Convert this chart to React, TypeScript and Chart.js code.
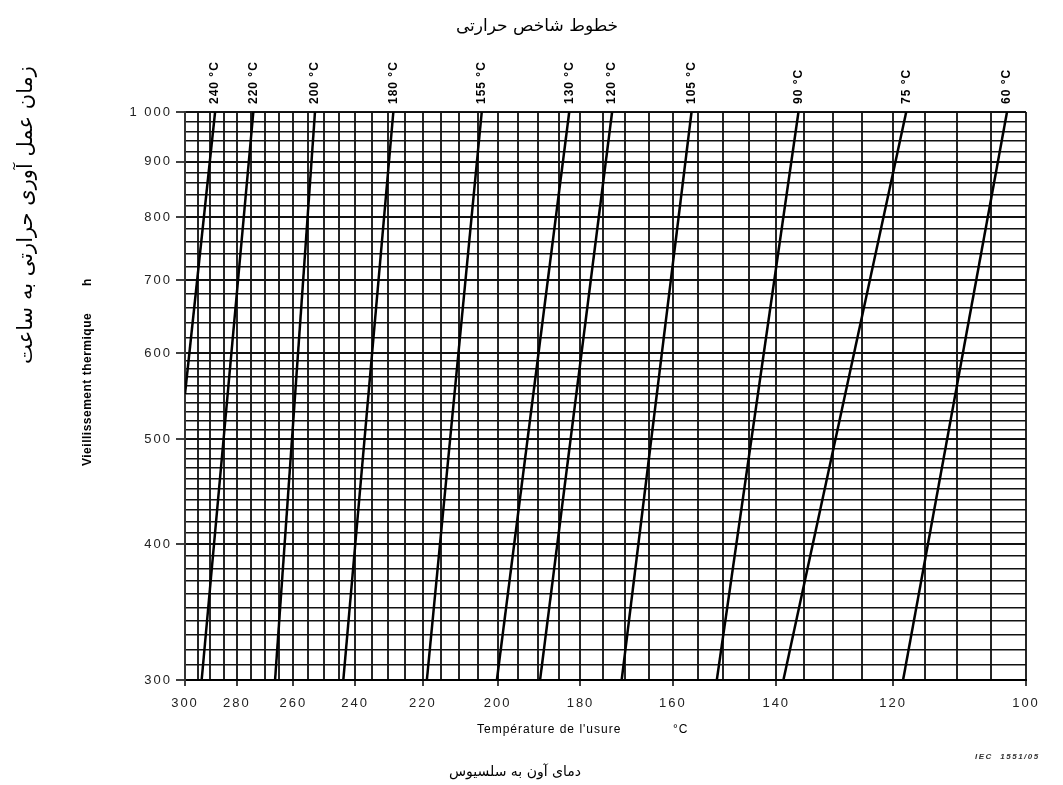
import React, { useEffect, useRef } from 'react';
import { Chart, registerables, LinearScale } from 'chart.js';

// ---------- data ----------
const indexLabels = ['240 °C', '220 °C', '200 °C', '180 °C', '155 °C', '130 °C', '120 °C', '105 °C', '90 °C', '75 °C', '60 °C'];
const hoursAtTop = [1000, 1000, 1000, 1000, 1000, 1000, 1000, 1000, 1000, 1000, 1000];
const tempAtTop = [288.2, 274.0, 252.8, 228.5, 204.1, 182.6, 172.9, 156.2, 136.0, 117.9, 102.7];
const tempAtLowEnd = [300, 293.4, 266.3, 243.7, 218.9, 200.2, 189.5, 170.8, 151.2, 138.7, 118.4];
const hoursAtLowEnd = [550, 300, 300, 300, 300, 300, 300, 300, 300, 300, 300];

const xLabelTemps = [300, 280, 260, 240, 220, 200, 180, 160, 140, 120, 100];
const xGridTemps = [
  300, 295, 290, 285, 280, 275, 270, 265, 260, 255, 250, 245, 240, 235, 230, 225, 220, 215, 210, 205,
  200, 195, 190, 185, 180, 175, 170, 165, 160, 155, 150, 145, 140, 135, 130, 125, 120, 115, 110, 105, 100,
];
const yLabelHours = [300, 400, 500, 600, 700, 800, 900, 1000];
const yLabelTexts = ['300', '400', '500', '600', '700', '800', '900', '1 000'];
const yGridHours = [
  300, 310, 320, 330, 340, 350, 360, 370, 380, 390, 400, 410, 420, 430, 440, 450, 460, 470, 480, 490,
  500, 510, 520, 530, 540, 550, 560, 570, 580, 590, 600, 620, 640, 660, 680, 700, 720, 740, 760, 780,
  800, 820, 840, 860, 880, 900, 920, 940, 960, 980, 1000,
];

const titleFa = 'خطوط شاخص حرارتی';
const yTitleFa = 'زمان عمل آوری حرارتی به ساعت';
const xTitleFa = 'دمای آون به سلسیوس';
const yTitleFr = 'Vieillissement thermique';
const yUnitFr = 'h';
const xTitleFr = "Température de l'usure";
const xUnitFr = '°C';
const noteText = 'IEC  1551/05';

// ---------- reciprocal temperature scale ----------
const TEMP_OFFSET = 190;
class ReciprocalScale extends LinearScale {
  getPixelForValue(value: number) {
    if (value === null || value === undefined || isNaN(value)) return NaN;
    const g = (t: number) => 1 / (t + TEMP_OFFSET);
    const lo = g(this.max);
    const hi = g(this.min);
    return this.getPixelForDecimal((g(value) - lo) / (hi - lo));
  }
  getValueForPixel(pixel: number) {
    const d = this.getDecimalForPixel(pixel);
    const lo = 1 / (this.max + TEMP_OFFSET);
    const hi = 1 / (this.min + TEMP_OFFSET);
    return 1 / (lo + d * (hi - lo)) - TEMP_OFFSET;
  }
}
(ReciprocalScale as any).id = 'reciprocal';
(ReciprocalScale as any).defaults = {};

Chart.register(...registerables, ReciprocalScale as any);

const SANS = '"Liberation Sans", Arial, sans-serif';
const FA = '"DejaVu Sans", sans-serif';

const annotations = {
  id: 'annotations',
  beforeDraw(chart: any) {
    chart.ctx.letterSpacing = '2px';
  },
  afterDraw(chart: any) {
    const ctx = chart.ctx as CanvasRenderingContext2D;
    const xs = chart.scales.x;
    const area = chart.chartArea;
    ctx.save();
    ctx.fillStyle = '#000';

    // index labels above plot
    ctx.letterSpacing = '1px';
    ctx.font = `bold 12px ${SANS}`;
    indexLabels.forEach((lab, i) => {
      const px = xs.getPixelForValue(tempAtTop[i]);
      ctx.save();
      ctx.translate(px, area.top - 8);
      ctx.rotate(-Math.PI / 2);
      ctx.textAlign = 'left';
      ctx.textBaseline = 'middle';
      ctx.fillText(lab, 0, 0);
      ctx.restore();
    });

    // French axis titles
    ctx.letterSpacing = '1px';
    ctx.font = `12px ${SANS}`;
    ctx.textAlign = 'left';
    ctx.textBaseline = 'middle';
    ctx.fillText(xTitleFr, 477, 730);
    ctx.fillText(xUnitFr, 673, 730);

    ctx.letterSpacing = '0.5px';
    ctx.font = `bold 12px ${SANS}`;
    ctx.save();
    ctx.translate(88, 466);
    ctx.rotate(-Math.PI / 2);
    ctx.textAlign = 'left';
    ctx.fillText(yTitleFr, 0, 0);
    ctx.fillText(yUnitFr, 180, 0);
    ctx.restore();

    // note
    ctx.letterSpacing = '1.5px';
    ctx.font = `italic bold 8px ${SANS}`;
    ctx.fillStyle = '#333';
    ctx.fillText(noteText, 975, 757);

    // Persian texts
    ctx.fillStyle = '#000';
    ctx.letterSpacing = '0px';
    ctx.textAlign = 'center';
    ctx.font = `17px ${FA}`;
    ctx.fillText(titleFa, 537, 27);
    ctx.font = `14px ${FA}`;
    ctx.fillText(xTitleFa, 515, 772);
    ctx.font = `21px ${FA}`;
    ctx.save();
    ctx.translate(27, 215);
    ctx.rotate(-Math.PI / 2);
    ctx.fillText(yTitleFa, 0, 0);
    ctx.restore();

    ctx.restore();
  },
};

export default function App() {
  const ref = useRef<HTMLCanvasElement>(null);
  useEffect(() => {
    const datasets = indexLabels.map((lab, i) => ({
      label: lab,
      data: [
        { x: tempAtTop[i], y: hoursAtTop[i] },
        { x: tempAtLowEnd[i], y: hoursAtLowEnd[i] },
      ],
      showLine: true,
      borderColor: '#000',
      borderWidth: 2.5,
      pointRadius: 0,
      tension: 0,
    }));
    const chart = new Chart(ref.current as HTMLCanvasElement, {
      type: 'scatter',
      data: { datasets },
      plugins: [annotations],
      options: {
        responsive: false,
        animation: false,
        layout: { padding: { left: 100, top: 112, right: 37, bottom: 50 } },
        plugins: { legend: { display: false }, tooltip: { enabled: false }, title: { display: false } },
        scales: {
          x: {
            type: 'reciprocal' as any,
            min: 100,
            max: 300,
            afterBuildTicks: (s: any) => {
              s.ticks = xGridTemps.map((v) => ({ value: v }));
            },
            afterFit: (s: any) => {
              s.height = 55;
              s.paddingLeft = 0;
              s.paddingRight = 0;
            },
            grid: {
              color: '#262626',
              lineWidth: 2,
              tickLength: 6,
              tickColor: (c: any) => (xLabelTemps.includes(c.tick?.value) ? '#000' : 'rgba(0,0,0,0)'),
              tickWidth: 1.5,
            },
            border: { color: '#000', width: 2 },
            ticks: {
              autoSkip: false,
              maxRotation: 0,
              minRotation: 0,
              padding: 10,
              color: '#222',
              font: { family: SANS, size: 13 },
              callback: (v: any) => (xLabelTemps.includes(Number(v)) ? String(v) : ''),
            },
          },
          y: {
            type: 'logarithmic',
            min: 300,
            max: 1000,
            afterBuildTicks: (s: any) => {
              s.ticks = yGridHours.map((v) => ({ value: v }));
            },
            afterFit: (s: any) => {
              s.width = 85;
              s.paddingTop = 0;
              s.paddingBottom = 0;
            },
            grid: {
              color: '#111',
              lineWidth: (c: any) => (yLabelHours.includes(c.tick?.value) ? 2 : 1.5),
              tickLength: 9,
              tickColor: (c: any) => (yLabelHours.includes(c.tick?.value) ? '#000' : 'rgba(0,0,0,0)'),
              tickWidth: 1.5,
            },
            border: { color: '#333', width: 2 },
            ticks: {
              autoSkip: false,
              padding: 4,
              color: '#222',
              font: { family: SANS, size: 13 },
              callback: (v: any) => {
                const k = yLabelHours.indexOf(Number(v));
                return k >= 0 ? yLabelTexts[k] : '';
              },
            },
          },
        },
      } as any,
    });
    return () => chart.destroy();
  }, []);
  return (
    <canvas
      ref={ref}
      width={1063}
      height={785}
      style={{ position: 'fixed', left: 0, top: 0, width: 1063, height: 785, display: 'block' }}
    />
  );
}
